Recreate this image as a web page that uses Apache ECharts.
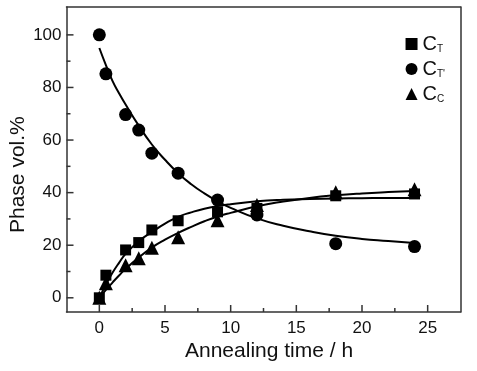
<!DOCTYPE html>
<html><head><meta charset="utf-8">
<script src="https://cdn.jsdelivr.net/npm/echarts@6/dist/echarts.min.js"></script>
<style>html,body{margin:0;padding:0;background:#fff}#c{width:477px;height:371px}</style>
</head><body><div id="c"></div>
<script>
// measured points
const timeCT  = [0, 0.5, 2, 3, 4, 6, 9, 12, 18, 24];
const valCT   = [0, 8.6, 18.2, 21, 25.8, 29.3, 32.7, 34, 38.8, 39.5];
const timeCTp = [0, 0.5, 2, 3, 4, 6, 9, 12, 18, 24];
const valCTp  = [100, 85.2, 69.7, 63.8, 55, 47.4, 37.2, 31.5, 20.6, 19.5];
const timeCC  = [0, 0.5, 2, 3, 4, 6, 9, 12, 18, 24];
const valCC   = [0, 5.5, 12.4, 15, 19, 23, 29.5, 35.3, 40.1, 41.3];
// fitted curves
const fitTime = [0, 0.5, 1, 1.5, 2, 3, 4, 5, 6, 7, 8, 9, 10, 12, 14, 16, 18, 20, 22, 24];
const fitCT   = [0, 5, 9.5, 13.3, 16.7, 21.5, 25, 28.2, 30.8, 32.5, 33.9, 34.9, 35.6, 36.7, 37.3, 37.6, 37.8, 37.9, 38, 38];
const fitCTp  = [95, 88.5, 82.5, 77.8, 73.5, 65.5, 58.3, 52.5, 47.4, 43.2, 39.7, 36.7, 34.2, 30.2, 27.4, 25.3, 23.6, 22.4, 21.6, 20.8];
const fitCC   = [0, 3, 5.8, 8.5, 11, 15.3, 19.1, 22.1, 24.7, 27, 29.1, 30.9, 32.3, 34.8, 36.6, 38, 39, 39.7, 40.2, 40.6];
const xTicks = [0, 5, 10, 15, 20, 25];
const xMinor = [2.5, 7.5, 12.5, 17.5, 22.5];
const yTicks = [0, 20, 40, 60, 80, 100];
const yMinor = [10, 30, 50, 70, 90];
const legendNames = ['C{s|T}', "C{s|T'}", 'C{s|C}'];

const zip = (a, b) => a.map((v, i) => [v, b[i]]);
const chart = echarts.init(document.getElementById('c'));
const font = 'Liberation Sans, Arial, sans-serif';
const lblColor = '#111';
const tickColor = '#333';
const X0 = -2.5, X1 = 27.5, Y0 = -5.4, Y1 = 110.6;

const frameAxis = (min, max, pos, labels, margin) => ({
  type: 'value', min: min, max: max, position: pos,
  axisLine: {show: true, onZero: false, lineStyle: {color: tickColor, width: 1.5}},
  axisTick: {show: false}, splitLine: {show: false},
  axisLabel: labels ? {show: true, customValues: labels, fontFamily: font, fontSize: 17, color: lblColor, margin: margin} : {show: false}
});

// tick marks drawn through the axis scales (custom series)
const tickSeries = (values, isX, len) => ({
  type: 'custom', silent: true, z: 1,
  data: values.map(v => isX ? [v, Y0] : [X0, v]),
  renderItem: (params, api) => {
    const p = api.coord([api.value(0), api.value(1)]);
    return {type: 'line',
      shape: isX ? {x1: p[0], y1: p[1], x2: p[0], y2: p[1] - len} : {x1: p[0], y1: p[1], x2: p[0] + len, y2: p[1]},
      style: {stroke: tickColor, lineWidth: 1.5}};
  }
});

const lineS = (data) => ({type: 'line', data: data, smooth: true, symbol: 'none', silent: true,
  lineStyle: {color: '#000', width: 2}, z: 2});
const scat = (name, data, sym, size) => ({type: 'scatter', name: name, data: data, symbol: sym, symbolSize: size,
  itemStyle: {color: '#000', opacity: 1}, z: 3});

chart.setOption({
  animation: false,
  grid: {left: 66.5, top: 7, right: 16.5, bottom: 59},
  xAxis: [frameAxis(X0, X1, 'bottom', xTicks, 8), frameAxis(X0, X1, 'top', null, 0)],
  yAxis: [frameAxis(Y0, Y1, 'left', yTicks, 5), frameAxis(Y0, Y1, 'right', null, 0)],
  legend: {
    orient: 'vertical', right: 27, top: 29, itemGap: 5, itemWidth: 12, itemHeight: 12,
    data: [
      {name: legendNames[0], icon: 'rect'},
      {name: legendNames[1], icon: 'circle'},
      {name: legendNames[2], icon: 'triangle'}
    ],
    formatter: (n) => n,
    textStyle: {fontFamily: font, fontSize: 20, color: lblColor,
      rich: {s: {fontFamily: font, fontSize: 10, color: lblColor, padding: [10, 0, 0, 0]}}}
  },
  series: [
    tickSeries(xTicks, true, 7),
    tickSeries(xMinor, true, 4),
    tickSeries(yTicks, false, 7),
    tickSeries(yMinor, false, 4),
    lineS(zip(fitTime, fitCT)),
    lineS(zip(fitTime, fitCTp)),
    lineS(zip(fitTime, fitCC)),
    scat(legendNames[0], zip(timeCT, valCT), 'rect', 11),
    scat(legendNames[1], zip(timeCTp, valCTp), 'circle', 13),
    scat(legendNames[2], zip(timeCC, valCC), 'triangle', 14)
  ],
  graphic: [
    {type: 'text', left: 185, top: 341, style: {text: 'Annealing time / h', font: '21px ' + font, fill: lblColor}},
    {type: 'text', x: 8, y: 233, rotation: Math.PI / 2, style: {text: 'Phase vol.%', font: '21px ' + font, fill: lblColor}}
  ]
});
</script></body></html>
